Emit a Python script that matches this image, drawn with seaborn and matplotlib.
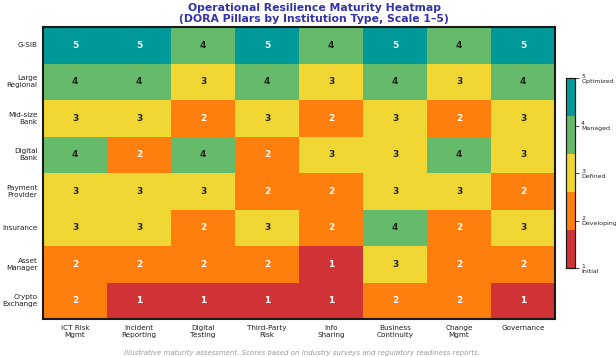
import numpy as np
import pandas as pd
import matplotlib
matplotlib.use("Agg")
import matplotlib.pyplot as plt
from matplotlib.colors import ListedColormap
import seaborn as sns

institutions = ["G-SIB", "Large\nRegional", "Mid-size\nBank", "Digital\nBank",
                "Payment\nProvider", "Insurance", "Asset\nManager", "Crypto\nExchange"]
pillars = ["ICT Risk\nMgmt", "Incident\nReporting", "Digital\nTesting", "Third-Party\nRisk",
           "Info\nSharing", "Business\nContinuity", "Change\nMgmt", "Governance"]

gsib = [5, 5, 4, 5, 4, 5, 4, 5]
large_regional = [4, 4, 3, 4, 3, 4, 3, 4]
mid_size = [3, 3, 2, 3, 2, 3, 2, 3]
digital = [4, 2, 4, 2, 3, 3, 4, 3]
payment = [3, 3, 3, 2, 2, 3, 3, 2]
insurance = [3, 3, 2, 3, 2, 4, 2, 3]
asset_mgr = [2, 2, 2, 2, 1, 3, 2, 2]
crypto = [2, 1, 1, 1, 1, 2, 2, 1]

level_ticks = [1, 2, 3, 4, 5]
level_labels = ["1\nInitial", "2\nDeveloping", "3\nDefined", "4\nManaged", "5\nOptimized"]
level_colors = ["#d03336", "#ff7f0e", "#f0d633", "#66bb6a", "#009999"]

scores = pd.DataFrame([gsib, large_regional, mid_size, digital, payment,
                       insurance, asset_mgr, crypto],
                      index=institutions, columns=pillars)

sns.set_style("white")
plt.rcParams["font.family"] = ["DejaVu Sans"]

fig = plt.figure(figsize=(6.16, 3.57), dpi=100)
ax = fig.add_axes([0.070, 0.106, 0.831, 0.818])
cax = fig.add_axes([0.919, 0.249, 0.015, 0.532])

cmap = ListedColormap(level_colors)
sns.heatmap(scores, ax=ax, cbar_ax=cax, cmap=cmap, vmin=1, vmax=5,
            annot=False, linewidths=0)

# value labels: light text on dark cells, dark text on light cells
for i, inst in enumerate(institutions):
    for j, p in enumerate(pillars):
        v = scores.loc[inst, p]
        color = "#222222" if v in (3, 4) else "white"
        ax.text(j + 0.5, i + 0.5, str(v), ha="center", va="center",
                fontsize=6.5, fontweight="bold", color=color)

for s in ax.spines.values():
    s.set_visible(True)
    s.set_color("#1a1a1a")
    s.set_linewidth(1.5)

ax.tick_params(axis="both", length=2, width=0.6, labelsize=5.2, colors="#222222", pad=2)
ax.set_xticklabels(pillars, rotation=0, fontsize=5.2)
ax.set_yticklabels(institutions, rotation=0, fontsize=5.2, ha="right")
ax.set_xlabel("")
ax.set_ylabel("")

cax.set_yticks(level_ticks)
cax.set_yticklabels(level_labels, fontsize=4.5, linespacing=1.0)
cax.tick_params(length=3, width=0.6, pad=1.2)
for s in cax.spines.values():
    s.set_visible(True)
    s.set_color("#1a1a1a")
    s.set_linewidth(0.8)

fig.text(0.51, 0.962, "Operational Resilience Maturity Heatmap\n(DORA Pillars by Institution Type, Scale 1\u20135)",
         ha="center", va="center", fontsize=7.8, fontweight="bold", color="#3333aa", linespacing=1.05)
fig.text(0.49, 0.004, "Illustrative maturity assessment. Scores based on industry surveys and regulatory readiness reports.",
         ha="center", va="bottom", fontsize=5, style="italic", color="#999999")

fig.savefig("out.png", dpi=100)
